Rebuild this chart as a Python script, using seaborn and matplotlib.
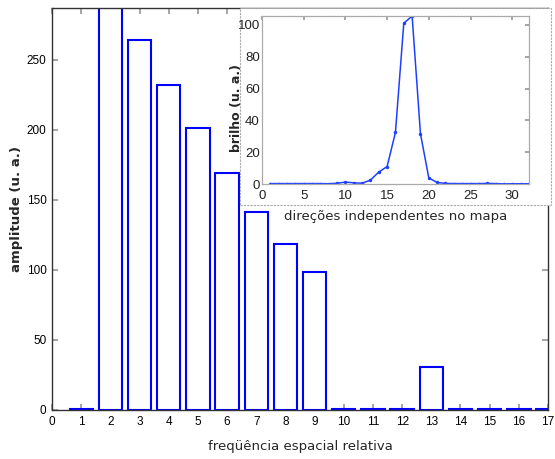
import matplotlib
matplotlib.use("Agg")
import matplotlib.pyplot as plt
import seaborn as sns
import pandas as pd
from matplotlib.patches import Rectangle

# ---- data ----
freq = list(range(1, 18))
amplitude = [0.5, 330, 264, 232, 201, 169, 141, 118.5, 98.5, 0.5, 0.5, 0.5, 30.5, 0.5, 0.5, 0.5, 0.5]
direcoes = list(range(1, 33))
brilho = [0.3, 0.3, 0.3, 0.3, 0.3, 0.3, 0.3, 0.2, 0.5, 1.2, 0.8, 0.5, 2.5, 7.5, 11, 32.4,
          101, 105.5, 31.6, 3.8, 1.0, 0.4, 0.3, 0.3, 0.3, 0.3, 0.4, 0.3, 0.1, 0.2, 0.2, 0.2]
main_xticks = list(range(0, 18))
main_yticks = [0, 50, 100, 150, 200, 250]
inset_xticks = [0, 5, 10, 15, 20, 25, 30]
inset_yticks = [0, 20, 40, 60, 80, 100]

sns.set_theme(style="white")
plt.rcParams["font.family"] = ["DejaVu Sans"]
tick_font = "Liberation Sans"

fig = plt.figure(figsize=(5.55, 4.59), dpi=100)
ax = fig.add_axes([0.0937, 0.1068, 0.8937, 0.8758])

df = pd.DataFrame({"freq": freq, "amp": amplitude})
sns.barplot(data=df, x="freq", y="amp", native_scale=True, width=0.8,
            color="white", edgecolor="#0000ff", linewidth=1.5, ax=ax, errorbar=None)
ax.set_xlim(0, 17)
ax.set_ylim(0, 287)
ax.set_xticks(main_xticks)
ax.set_yticks(main_yticks)
ax.set_xticklabels([str(t) for t in main_xticks], fontfamily=tick_font, fontsize=8.5)
ax.set_yticklabels([str(t) for t in main_yticks], fontfamily=tick_font, fontsize=8.5)
ax.tick_params(direction="in", length=4, color="#999999", top=True, right=True,
               bottom=True, left=True, pad=4, labelcolor="black")
for s in ax.spines.values():
    s.set_color("#333333")
    s.set_linewidth(1.0)
ax.set_xlabel("freqüência espacial relativa", fontsize=9.5)
ax.xaxis.set_label_coords(0.5, -0.075)
ax.set_ylabel("amplitude (u. a.)", fontsize=9.5, fontweight="bold")
ax.yaxis.set_label_coords(-0.071, 0.5)
ax.yaxis.label.set_va("center")

# white backing region for the inset
rect = Rectangle((0.4324, 0.5534), 0.5604, 0.4292, transform=fig.transFigure,
                 facecolor="white", edgecolor="#aaaaaa", linestyle=(0, (2, 1)),
                 linewidth=0.8, zorder=1)
fig.add_artist(rect)

ins = fig.add_axes([0.472, 0.599, 0.481, 0.366], zorder=2)
dfi = pd.DataFrame({"d": direcoes, "b": brilho})
sns.lineplot(data=dfi, x="d", y="b", color="#1f3fff", marker="o", markersize=2.5,
             markeredgewidth=0, linewidth=1.1, ax=ins)
ins.set_xlim(0, 32)
ins.set_ylim(0, 105.5)
ins.set_xticks(inset_xticks)
ins.set_yticks(inset_yticks)
ins.set_xticklabels([str(t) for t in inset_xticks], fontfamily=tick_font, fontsize=9.5)
ins.set_yticklabels([str(t) for t in inset_yticks], fontfamily=tick_font, fontsize=9.5)
ins.tick_params(direction="in", length=3, color="#999999", top=True, right=True,
                labelcolor="#222222")
ins.tick_params(axis="y", pad=1.5)
ins.tick_params(axis="x", pad=4)
for k, s in ins.spines.items():
    s.set_color("#aaaaaa")
    s.set_linewidth(0.9)
    if k in ("top",):
        s.set_linestyle((0, (2, 1)))
ins.set_xlabel("direções independentes no mapa", fontsize=9.5)
ins.xaxis.set_label_coords(0.5, -0.155)
ins.set_ylabel("brilho (u. a.)", fontsize=9, fontweight="bold")
ins.yaxis.set_label_coords(-0.097, 0.45)
ins.yaxis.label.set_va("center")

fig.savefig("out.png", dpi=100)
